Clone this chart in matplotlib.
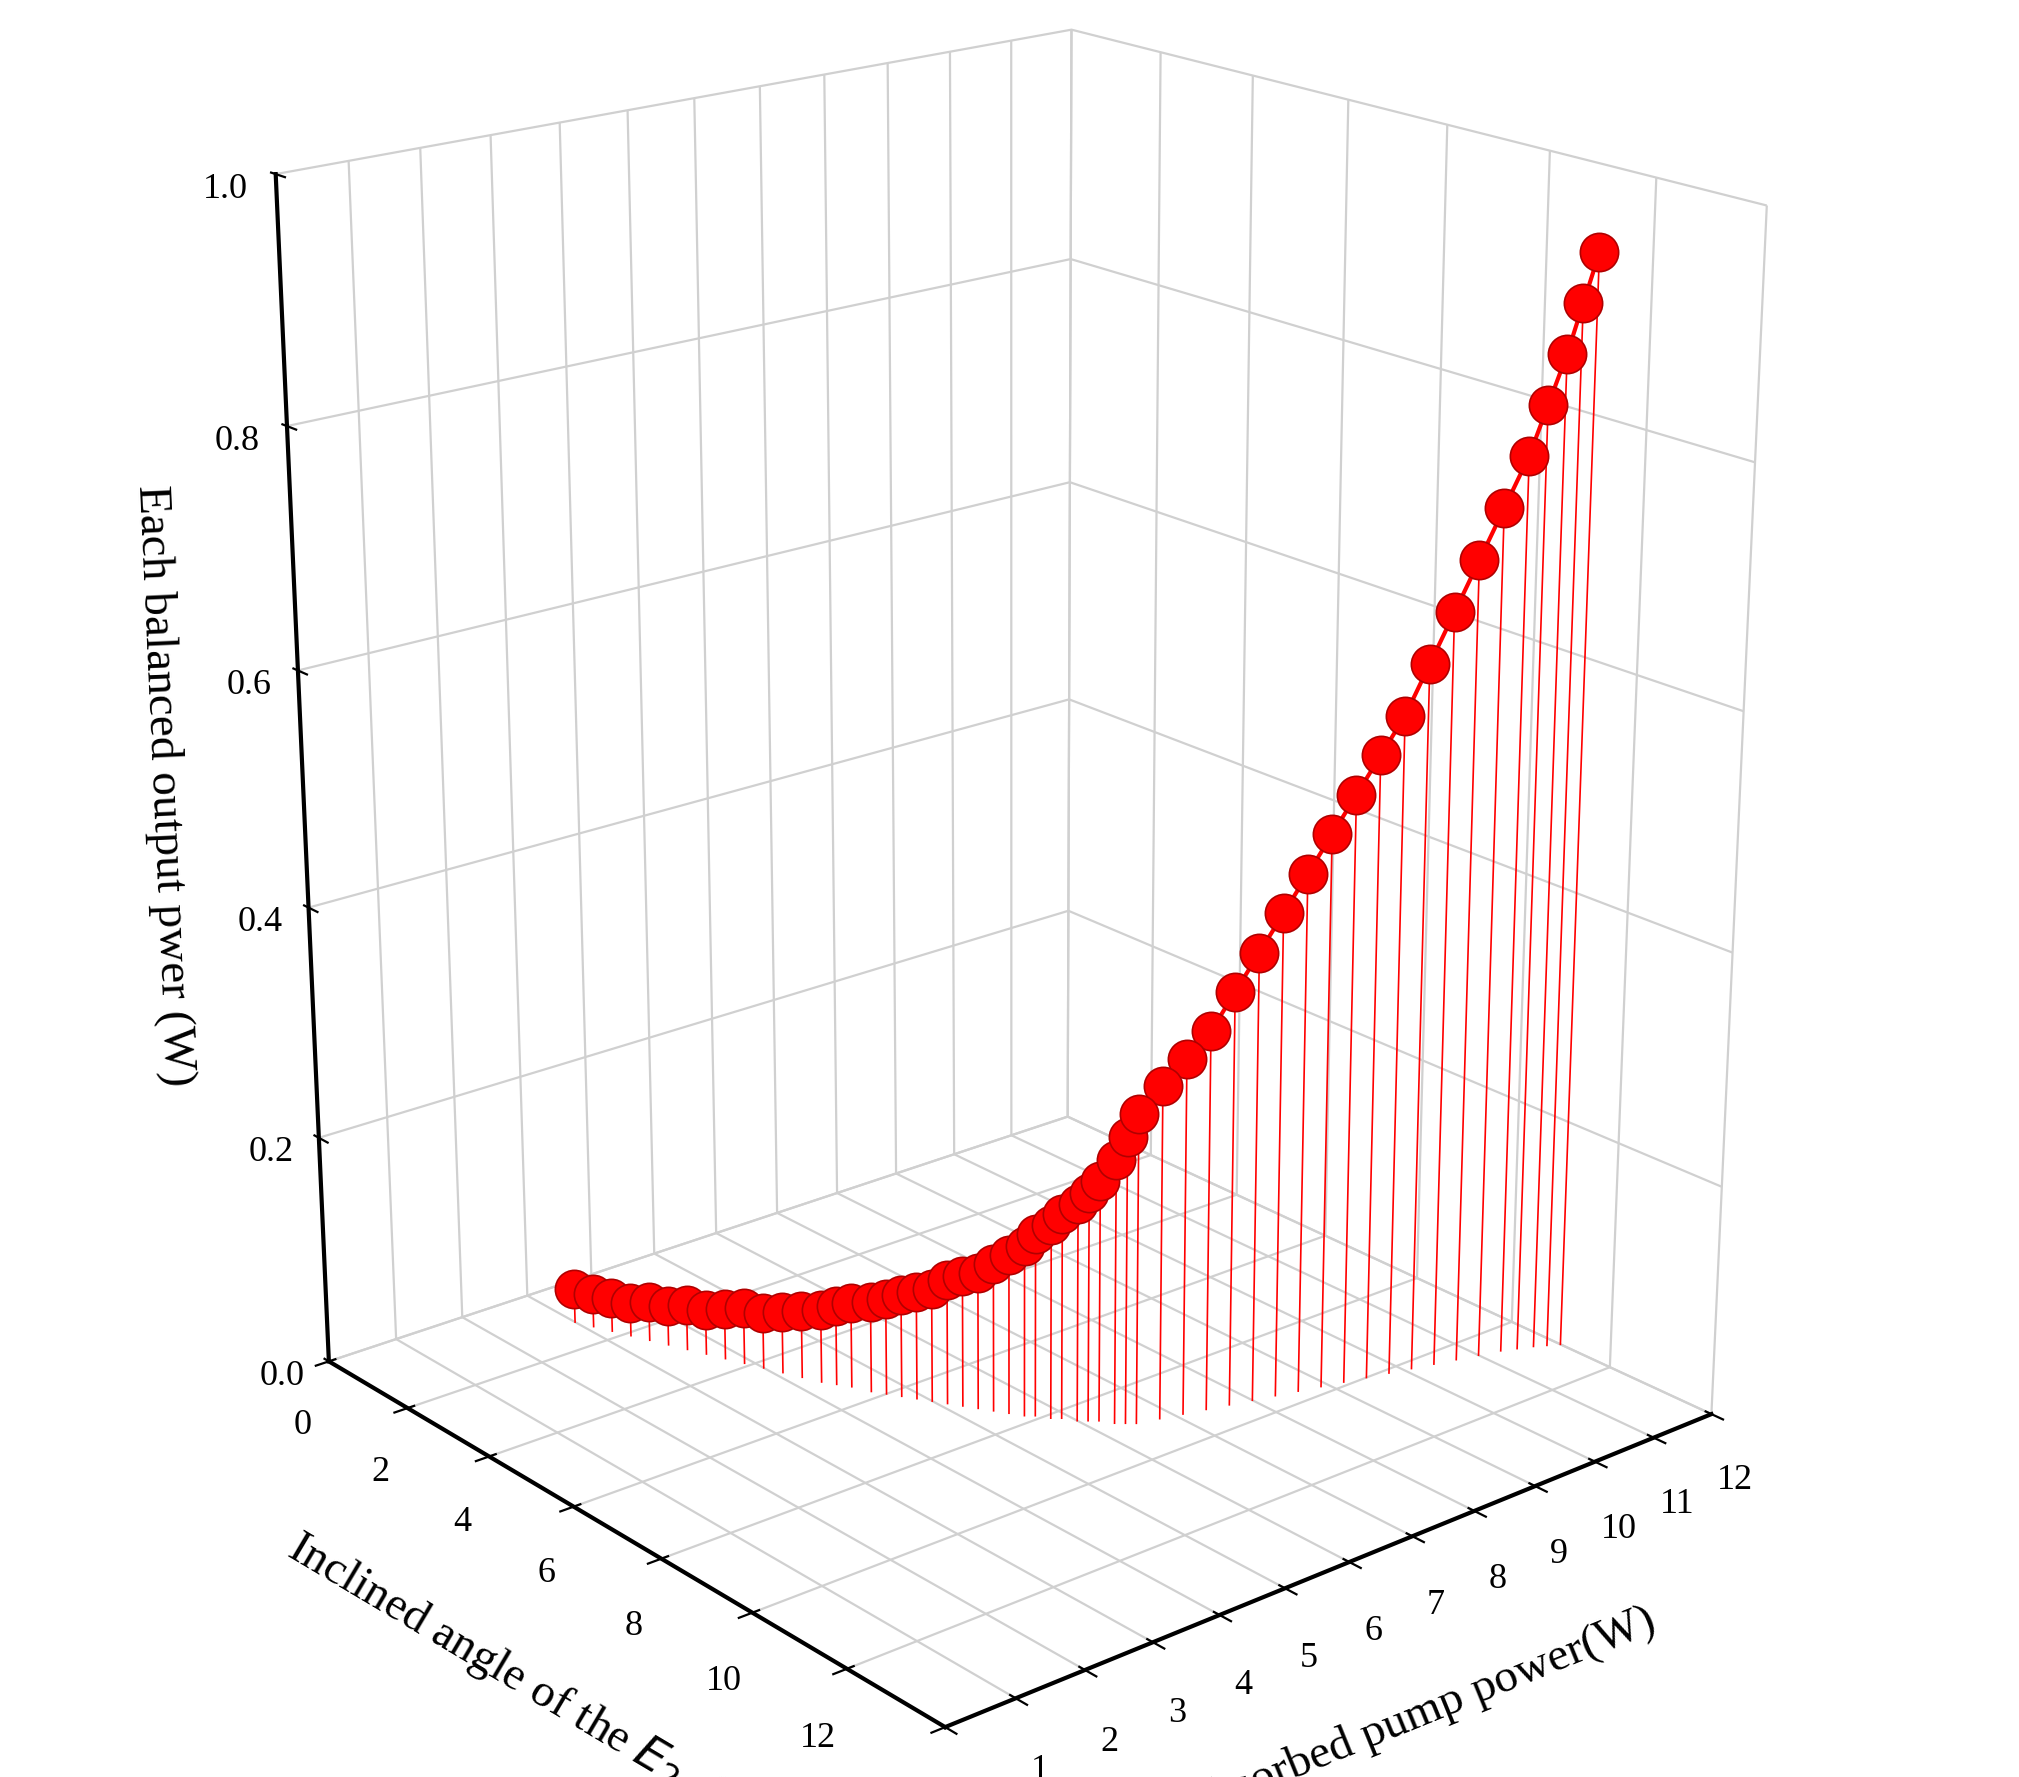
import numpy as np
import matplotlib.pyplot as plt

plt.rcParams['font.family'] = ['Liberation Serif', 'DejaVu Serif']

# inclined angle of E2 (deg)
angle = [1.2, 1.5, 1.8, 2.1, 2.4, 2.7, 3.0, 3.3, 3.6, 3.9, 4.2, 4.5, 4.8, 5.1, 5.3, 5.5, 5.8, 6.0,
         6.2, 6.4, 6.6, 6.8, 7.0, 7.2, 7.4, 7.6, 7.8, 7.9, 8.1, 8.2, 8.4, 8.5, 8.6, 8.8, 8.9, 9.0,
         9.1, 9.2, 9.3, 9.4, 9.5, 9.6, 9.7, 9.8, 9.9, 10.0, 10.1, 10.2, 10.3, 10.4, 10.5, 10.6,
         10.7, 10.8, 10.9, 11.0]
# absorbed pump power (W)
pump = [3.0, 3.1, 3.2, 3.3, 3.4, 3.5, 3.6, 3.7, 3.8, 3.9, 4.0, 4.1, 4.2, 4.3, 4.4, 4.5, 4.6, 4.7,
        4.8, 4.9, 5.0, 5.1, 5.2, 5.3, 5.4, 5.5, 5.6, 5.7, 5.8, 5.9, 6.0, 6.1, 6.2, 6.3, 6.4, 6.5,
        6.8, 7.1, 7.4, 7.7, 8.0, 8.3, 8.6, 8.9, 9.2, 9.5, 9.8, 10.1, 10.4, 10.7, 11.0, 11.3,
        11.5, 11.7, 11.85, 12.0]
# each balanced output power (W)
power = [0.03, 0.03, 0.03, 0.03, 0.035, 0.035, 0.04, 0.04, 0.045, 0.05, 0.05, 0.055, 0.06, 0.065,
         0.07, 0.075, 0.08, 0.085, 0.09, 0.095, 0.10, 0.11, 0.115, 0.12, 0.13, 0.14, 0.15, 0.16,
         0.17, 0.18, 0.19, 0.20, 0.21, 0.23, 0.25, 0.27,
         0.29, 0.31, 0.33, 0.36, 0.39, 0.42, 0.45, 0.48, 0.51, 0.54, 0.57, 0.61, 0.65, 0.69,
         0.73, 0.77, 0.81, 0.85, 0.89, 0.93]

fig = plt.figure(figsize=(10.095, 8.885), dpi=200)
ax = fig.add_axes([-0.04, 0.03, 1.06, 1.0], projection='3d')
ax.set_proj_type('persp', focal_length=0.6)
ax.view_init(elev=20, azim=-40)

for a, p, z in zip(angle, pump, power):
    ax.plot([a, a], [p, p], [0, z], color='red', lw=0.6)
ax.plot(angle, pump, power, color='red', lw=1.5)
ax.scatter(angle, pump, power, s=190, c='red', edgecolors='#b00000', linewidths=0.6,
           depthshade=False, alpha=1)

ax.set_xlim(0, 14)
ax.set_ylim(0, 12)
ax.set_zlim(0, 1.0)
ax.set_xticks(range(0, 15, 2))
ax.set_yticks(range(0, 13))
ax.set_zticks([0, 0.2, 0.4, 0.6, 0.8, 1.0])
ax.set_zticklabels(['0.0', '0.2', '0.4', '0.6', '0.8', '1.0'])
ax.tick_params(labelsize=13)
ax.set_xlabel(r'Inclined angle of the $E_2$  ($\theta_2$)', fontsize=17, labelpad=14)
ax.set_ylabel('Absorbed pump power(W)', fontsize=17, labelpad=12)
ax.set_zlabel('Each balanced output pwer (W)', fontsize=17, labelpad=12)
ax.zaxis._axinfo['juggled'] = (1, 2, 0)
for axis in (ax.xaxis, ax.yaxis, ax.zaxis):
    axis.set_pane_color((1, 1, 1, 0))
    axis.line.set_color('black')
    axis.line.set_linewidth(1.5)
    axis._axinfo['grid']['color'] = '#d0d0d0'
    axis._axinfo['grid']['linewidth'] = 0.8
ax.set_box_aspect((1, 1, 1.25), zoom=1.05)

fig.savefig('out.png', dpi=200)
